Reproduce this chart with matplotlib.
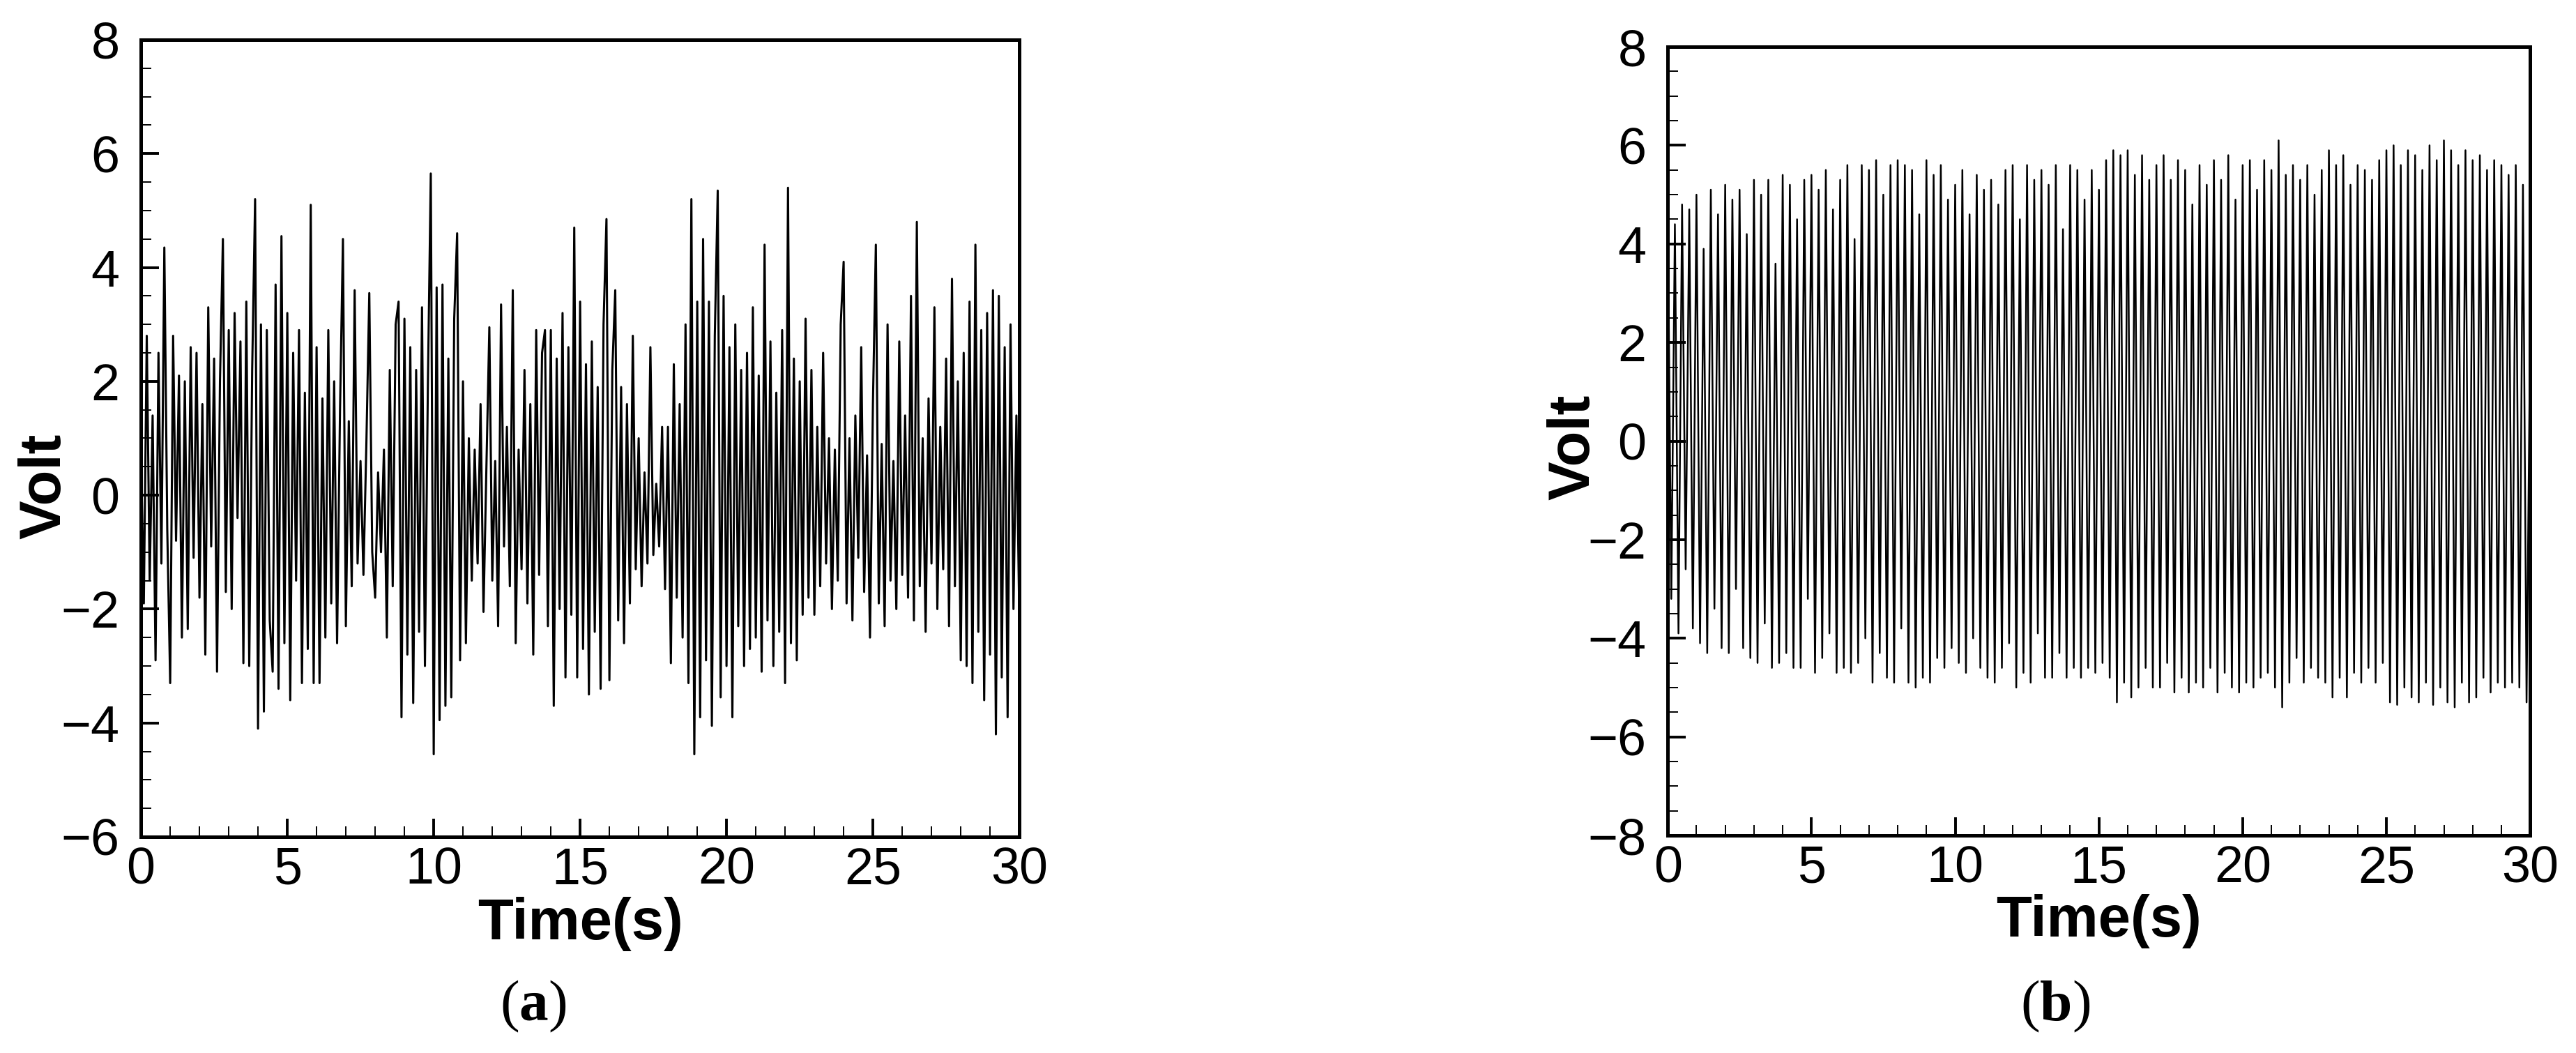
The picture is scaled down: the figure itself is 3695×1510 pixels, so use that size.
import numpy as np
import matplotlib
matplotlib.use("Agg")
import matplotlib.pyplot as plt
from matplotlib.ticker import MultipleLocator

# %% data
dt_a = 0.1     # s between samples, panel (a)
dt_b = 0.125   # s between peak / trough, panel (b)

volt_a = [
    0.8, -1.9, 2.8, -1.5, 1.4, -2.9, 2.5, -1.2, 4.35, -0.6,
    -3.3, 2.8, -0.8, 2.1, -2.5, 2.0, -2.35, 2.6, -1.1, 2.5,
    -1.8, 1.6, -2.8, 3.3, -0.9, 2.4, -3.1, 2.0, 4.5, -1.7,
    2.9, -2.0, 3.2, -0.4, 2.7, -2.95, 3.4, -3.0, 2.2, 5.2,
    -4.1, 3.0, -3.8, 2.9, -2.2, -3.1, 3.7, -3.4, 4.55, -2.6,
    3.2, -3.6, 2.5, -1.5, 2.9, -3.3, 1.8, -2.7, 5.1, -3.3,
    2.6, -3.3, 1.7, -2.5, 2.9, -1.9, 2.0, -2.6, 1.5, 4.5,
    -2.3, 1.3, -1.6, 3.6, -1.2, 0.6, -1.4, 0.9, 3.55, -1.0,
    -1.8, 0.4, -1.0, 0.8, -2.5, 2.2, -1.6, 3.0, 3.4, -3.9,
    3.1, -2.8, 2.6, -3.65, 2.2, -2.4, 3.3, -3.0, 1.9, 5.65,
    -4.55, 3.65, -3.95, 3.7, -3.7, 2.4, -3.55, 3.1, 4.6, -2.9,
    2.0, -2.6, 1.0, -1.5, 0.8, -1.2, 1.6, -2.05, 0.5, 2.95,
    -1.5, 0.6, -2.3, 3.35, -0.9, 1.2, -1.6, 3.6, -2.6, 0.8,
    -1.3, 2.2, -1.9, 1.6, -2.8, 2.9, -1.4, 2.5, 2.9, -2.3,
    2.9, -3.7, 2.4, -2.0, 3.2, -3.2, 2.6, -2.1, 4.7, -3.2,
    3.4, -2.7, 2.3, -3.5, 2.7, -2.4, 1.9, -3.4, 3.0, 4.85,
    -3.25, 2.2, 3.6, -2.2, 1.9, -2.6, 1.6, -1.9, 2.8, -1.3,
    1.0, -1.6, 0.4, -1.2, 2.6, -1.05, 0.2, -0.9, 1.2, -1.65,
    1.2, -2.95, 2.3, -1.8, 1.6, -2.5, 3.0, -3.3, 5.2, -4.55,
    3.4, -3.9, 4.5, -2.9, 3.4, -4.05, 2.8, 5.35, -3.55, 3.5,
    -3.0, 2.6, -3.9, 3.0, -2.3, 2.2, -3.0, 2.5, -2.7, 3.3,
    -2.5, 2.1, -3.1, 4.4, -2.2, 2.7, -3.0, 1.8, -2.4, 2.9,
    -3.3, 5.4, -2.6, 2.4, -2.9, 2.0, -2.1, 3.1, -1.8, 2.2,
    -2.1, 1.2, -1.6, 2.5, -1.2, 1.0, -2.0, 0.8, -1.5, 3.0,
    4.1, -1.9, 1.0, -2.2, 1.4, -1.1, 2.6, -1.7, 0.7, -2.5,
    1.6, 4.4, -1.9, 0.9, -2.3, 3.0, -1.5, 0.6, -2.0, 2.7,
    -1.4, 1.4, -1.8, 3.5, -2.2, 4.8, -1.6, 1.0, -2.4, 1.7,
    -1.2, 3.3, -2.0, 1.2, -1.3, 2.4, -2.3, 3.8, -1.6, 2.0,
    -2.9, 2.5, -3.0, 3.4, -3.3, 4.4, -2.4, 2.9, -3.6, 3.2,
    -2.8, 3.6, -4.2, 3.5, -3.2, 2.6, -3.9, 3.0, -2.0, 1.4,
    -2.2,
]

volt_b = [
    4.9, -3.2, 4.4, -3.9, 4.8, -2.6, 4.7, -3.8,
    5.0, -4.1, 3.9, -4.3, 5.1, -3.4, 4.6, -4.2,
    5.2, -4.3, 4.9, -3.0, 5.1, -4.2, 4.2, -4.4,
    5.3, -4.5, 5.0, -3.7, 5.3, -4.6, 3.6, -4.5,
    5.4, -4.3, 5.2, -4.6, 4.5, -4.6, 5.3, -3.2,
    5.4, -4.7, 5.1, -4.4, 5.5, -3.9, 4.7, -4.7,
    5.3, -4.6, 5.6, -4.7, 4.1, -4.5, 5.6, -4.0,
    5.5, -4.9, 5.7, -4.3, 5.0, -4.8, 5.6, -4.9,
    5.7, -3.8, 5.6, -4.9, 5.5, -5.0, 4.6, -4.8,
    5.7, -4.9, 5.4, -4.4, 5.6, -4.6, 4.9, -4.2,
    5.2, -4.5, 5.5, -4.7, 4.6, -4.0, 5.4, -4.6,
    5.1, -4.8, 5.3, -4.9, 4.8, -4.6, 5.5, -4.1,
    5.6, -5.0, 4.5, -4.7, 5.6, -4.9, 5.3, -3.9,
    5.5, -4.8, 5.2, -4.8, 5.6, -4.3, 4.3, -4.8,
    5.6, -4.6, 5.5, -4.8, 4.9, -4.6, 5.5, -4.7,
    5.1, -4.5, 5.7, -4.8, 5.9, -5.3, 5.8, -4.9,
    5.9, -5.2, 5.4, -5.0, 5.8, -4.6, 5.3, -5.0,
    5.6, -5.0, 5.8, -4.5, 5.3, -5.1, 5.7, -4.8,
    5.5, -5.1, 4.8, -4.9, 5.6, -5.0, 5.2, -4.6,
    5.7, -5.1, 5.3, -4.7, 5.8, -5.0, 4.9, -5.1,
    5.6, -4.9, 5.7, -5.0, 5.1, -4.8, 5.7, -4.7,
    5.5, -5.0, 6.1, -5.4, 5.4, -4.9, 5.6, -4.4,
    5.3, -4.9, 5.6, -4.6, 5.0, -4.8, 5.5, -4.9,
    5.9, -5.2, 5.6, -4.8, 5.8, -5.2, 5.2, -4.7,
    5.6, -4.9, 5.5, -4.6, 5.3, -4.9, 5.7, -4.5,
    5.9, -5.3, 6.0, -5.35, 5.6, -5.0, 5.9, -5.2,
    5.8, -5.3, 5.5, -4.9, 6.0, -5.35, 5.7, -5.0,
    6.1, -5.3, 5.9, -5.4, 5.6, -4.9, 5.9, -5.3,
    5.7, -5.2, 5.8, -4.8, 5.5, -5.1, 5.7, -4.9,
    5.6, -5.0, 5.4, -4.9, 5.6, -5.0, 5.2, -5.3,
    2.2,
]

ylim_a = (-6, 8)
ylim_b = (-8, 8)
xlim = (0, 30)
panel_tags = [r"$\mathrm{(}\mathbf{a}\mathrm{)}$", r"$\mathrm{(}\mathbf{b}\mathrm{)}$"]

# %% style
plt.rcParams["font.family"] = ["Liberation Sans", "DejaVu Sans"]
plt.rcParams["mathtext.fontset"] = "custom"
plt.rcParams["mathtext.rm"] = "Liberation Serif"
plt.rcParams["mathtext.bf"] = "Liberation Serif:bold"

fig = plt.figure(figsize=(36.95, 15.10), dpi=100)
ax_a = fig.add_axes([0.0547, 0.2053, 0.3410, 0.7570])
ax_b = fig.add_axes([0.6474, 0.2066, 0.3348, 0.7490])


def style_axis(ax, ylim, ylab_y):
    ax.set_xlim(*xlim)
    ax.set_ylim(*ylim)
    ax.xaxis.set_major_locator(MultipleLocator(5))
    ax.xaxis.set_minor_locator(MultipleLocator(1))
    ax.yaxis.set_major_locator(MultipleLocator(2))
    ax.yaxis.set_minor_locator(MultipleLocator(0.5))
    for s in ax.spines.values():
        s.set_linewidth(3.6)
    ax.tick_params(which="major", direction="in", length=19, width=2.8,
                   labelsize=53, top=False, right=False)
    ax.tick_params(axis="x", which="major", pad=10)
    ax.tick_params(axis="y", which="major", pad=22)
    ax.tick_params(which="minor", direction="in", length=11, width=1.4,
                   top=False, right=False)
    ax.set_xlabel("Time(s)", fontsize=60, fontweight="bold", va="baseline")
    ax.xaxis.set_label_coords(0.5, -0.1286)
    ax.set_ylabel("Volt", fontsize=60, fontweight="bold", va="center")
    ax.yaxis.set_label_coords(-0.109, ylab_y)


t_a = np.arange(len(volt_a)) * dt_a
t_b = np.arange(len(volt_b)) * dt_b

ax_a.plot(t_a, volt_a, color="black", lw=2.2)
ax_b.plot(t_b, volt_b, color="black", lw=1.8)

style_axis(ax_a, ylim_a, 0.44)
style_axis(ax_b, ylim_b, 0.4925)

fig.text(0.207, 0.031, panel_tags[0], fontsize=60, ha="center", va="baseline")
fig.text(0.798, 0.031, panel_tags[1], fontsize=60, ha="center", va="baseline")

fig.savefig("out.png", dpi=100)
